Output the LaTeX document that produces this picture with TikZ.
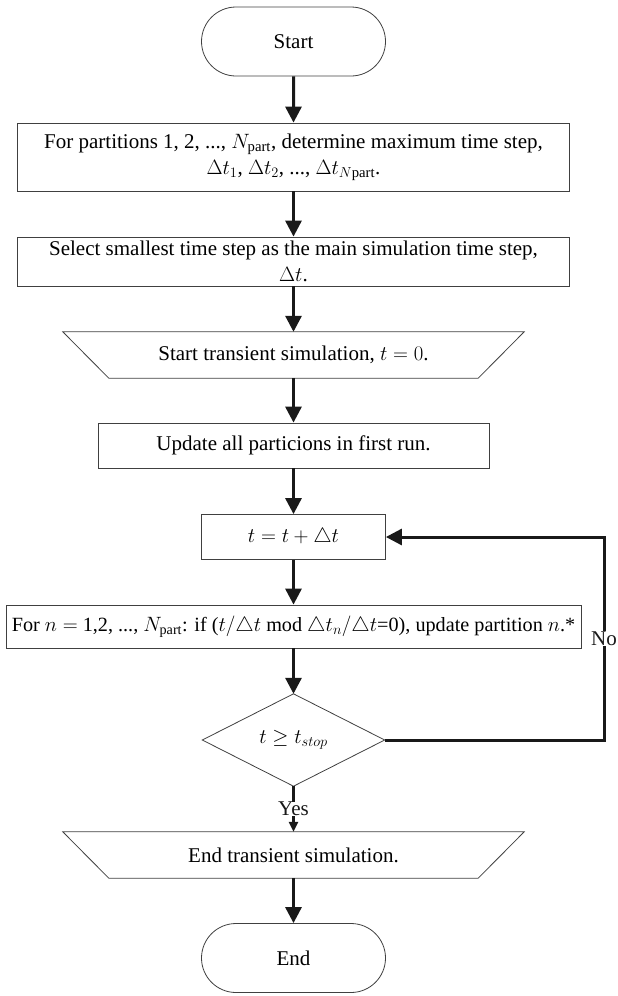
\documentclass[tikz,border=0pt]{standalone}
\usepackage{amsmath}
\usepackage{amssymb}
\usepackage{fontspec}
\setmainfont{Liberation Serif}
\usetikzlibrary{arrows.meta}
\usetikzlibrary{shapes.misc}
\tikzset{
  every node/.append style={font=\fontsize{21}{26}\selectfont},
  thinline/.style={draw=black!75,line width=.8pt},
  outline/.style={thinline,inner sep=0pt,align=center},
  box/.style={outline,rectangle},
  term/.style={outline,rounded rectangle,minimum width=184pt,minimum height=69pt},
  io/.style={inner sep=0pt,minimum width=461pt,minimum height=46pt},
  test/.style={inner sep=0pt,minimum width=182pt,minimum height=92pt},
  flow/.style={black!90,line width=3pt,-{Triangle[length=16pt,width=16pt]}}
}

\begin{document}
\begin{tikzpicture}[x=1pt,y=-1pt]
\useasboundingbox (0,0) rectangle (618,996);
\node[term] (start) at (293.5,41.5) {Start};
\node[box,minimum width=552pt,minimum height=68pt] (parts) at (293.5,157)
  {For partitions 1, 2, ..., $N_{\text{part}}$, determine maximum time step,\\ $\Delta t_1$, $\Delta t_2$, ..., $\Delta t_{N\text{part}}$.};
\node[box,minimum width=552pt,minimum height=49pt] (select) at (293.5,261.5)
  {Select smallest time step as the main simulation time step,\\ $\Delta t$.};
\node[io] (startsim) at (293.5,355) {Start transient simulation, $t=0$.};
\node[box,minimum width=391pt,minimum height=45pt] (update) at (293.5,445.5) {Update all particions in first run.};
\node[box,minimum width=184pt,minimum height=45pt] (tstep) at (293.5,537) {$t=t+\triangle t$};
\node[box,minimum width=575pt,minimum height=43pt,font=\fontsize{20.2}{26}\selectfont] (forn) at (293.5,626.5)
  {For $n=$ 1,2, ..., $N_{\text{part}}$: if ($t/\triangle t$ mod $\triangle t_n/\triangle t$=0), update partition $n$.*};
\node[test] (cond) at (293.5,740) {$t\geq t_{stop}$};
\node[io] (endsim) at (293.5,855) {End transient simulation.};
\node[term] (end) at (293.5,958) {End};
\foreach \n in {startsim,endsim}
  \draw[thinline] (\n.north west) -- (\n.north east) -- ([xshift=-46pt]\n.south east)
    -- ([xshift=46pt]\n.south west) -- cycle;
\draw[thinline] (cond.north) -- (cond.east) -- (cond.south) -- (cond.west) -- cycle;
\coordinate (back) at (604,537);
\draw[flow] (start) -- (parts);
\draw[flow] (parts) -- (select);
\draw[flow] (select) -- (startsim);
\draw[flow] (startsim) -- (update);
\draw[flow] (update) -- (tstep);
\draw[flow] (tstep) -- (forn);
\draw[flow] (forn) -- (cond.north);
\draw[flow] (cond.east) -| node[pos=.75,fill=white,inner sep=1pt] {No} (back) -- (tstep.east);
\draw[flow,-{Triangle[length=10pt,width=9pt]}] (cond.south) -- node[fill=white,inner sep=0pt] {Yes} (endsim);
\draw[flow] (endsim) -- (end);
\end{tikzpicture}
\end{document}
